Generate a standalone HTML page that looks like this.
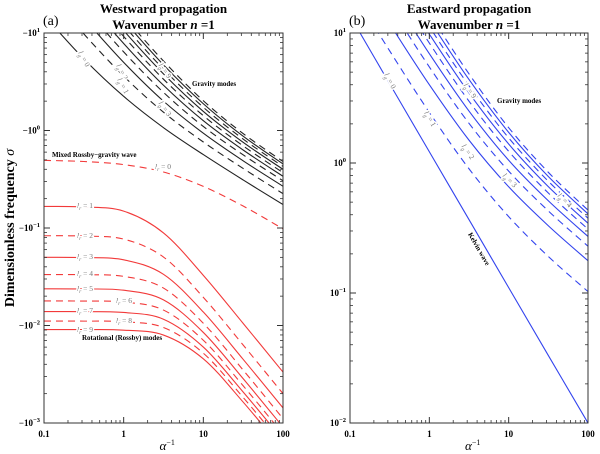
<!DOCTYPE html>
<html><head><meta charset="utf-8"><style>
html,body{margin:0;padding:0;background:#fff}
svg{display:block}
text{font-family:"Liberation Serif",serif}
</style></head><body>
<svg id="chart" width="600" height="454" viewBox="0 0 600 454"></svg>
<script>
const xSamples=[0.1,0.316,1,3.16,10,31.6,100];
const yTickExps=[1,0,-1,-2,-3];
const xTickLabels=["0.1","1","10","100"];
const xTickVals=[0.1,1,10,100];
// Westward gravity modes l_g=0..9
const westGravity=[
[15.2,5.43,2.24,1.07,0.566,0.311,0.174],
[29.2,9.79,3.61,1.54,0.762,0.408,0.225],
[43,14.2,5.0,2.0,0.938,0.489,0.268],
[56.6,18.7,6.4,2.46,1.10,0.563,0.305],
[70.8,23.1,7.81,2.91,1.26,0.631,0.339],
[85,27.6,9.22,3.36,1.42,0.695,0.370],
[99,32,10.6,3.81,1.57,0.756,0.400],
[113,36.5,12.0,4.26,1.73,0.816,0.428],
[127,41,13.5,4.71,1.88,0.874,0.454],
[141,45,14.9,5.16,2.02,0.930,0.481]];
// Mixed Rossby-gravity (l_r=0)
const westMRG=[0.494,0.481,0.447,0.375,0.267,0.168,0.098];
// Westward Rossby modes l_r=1..9
const westRossby=[
[0.1665,0.1646,0.149,0.0891,0.0327,0.01052,0.00333],
[0.0833,0.0826,0.0769,0.0504,0.01945,0.00631,0.0020],
[0.05,0.0497,0.0472,0.0335,0.01374,0.0045,0.00143],
[0.0333,0.0332,0.0319,0.0242,0.01054,0.00349,0.00111],
[0.0238,0.0237,0.0230,0.0183,0.00849,0.00285,0.000908],
[0.01786,0.0178,0.0174,0.0144,0.00706,0.00241,0.00077],
[0.0139,0.01386,0.0136,0.0116,0.00601,0.00208,0.00067],
[0.0111,0.01109,0.01092,0.00954,0.0052,0.00183,0.00059],
[0.00909,0.00908,0.00896,0.00798,0.00455,0.00164,0.00053]];
// Eastward: Kelvin (l_g=0) and gravity l_g=1..9
const eastKelvin=[13.6,4.07,1.22,0.367,0.110,0.0331,0.0100];
const eastGravity=[
[22.6,7.29,2.45,0.903,0.387,0.191,0.1025],
[36.5,11.8,4.0,1.5,0.656,0.329,0.177],
[50,16.3,5.48,2.02,0.866,0.428,0.229],
[64,20.8,6.93,2.51,1.05,0.512,0.272],
[78,25.3,8.37,2.99,1.23,0.588,0.310],
[92,29.7,9.80,3.46,1.40,0.658,0.344],
[106,34.2,11.2,3.93,1.56,0.724,0.376],
[120,38.7,12.6,4.39,1.72,0.787,0.406],
[135,43.2,14.1,4.85,1.87,0.848,0.434]];

const NS="http://www.w3.org/2000/svg";
const svg=document.getElementById('chart');
function mk(tag,attrs,parent){const e=document.createElementNS(NS,tag);for(const k in attrs)e.setAttribute(k,attrs[k]);(parent||svg).appendChild(e);return e;}
function txt(s,x,y,size,opts,parent){const t=mk('text',Object.assign({x:x,y:y,'font-size':size},opts||{}),parent);t.textContent=s;return t;}

function makePanel(p){
  const g=mk('g',{});
  
  
  const L=p.left,R=p.right,T=33,B=423;
  const lx0=-1,lx1=2;
  const X=v=>L+(Math.log10(v)-lx0)/(lx1-lx0)*(R-L);
  const Y=v=>T+(p.ymaxExp-Math.log10(v))/(p.ymaxExp-p.yminExp)*(B-T);
  const cid='clip-'+p.name;
  const cp=mk('clipPath',{id:cid},g);mk('rect',{x:L,y:T,width:R-L,height:B-T},cp);
  const curves=mk('g',{'clip-path':'url(#'+cid+')'},g);
  
  
  function pathFor(vals){
    const pts=xSamples.map((x,i)=>[X(x),Y(vals[i])]);
    let d='M'+pts[0][0].toFixed(2)+' '+pts[0][1].toFixed(2);
    for(let i=0;i<pts.length-1;i++){
      const p0=pts[Math.max(0,i-1)],p1=pts[i],p2=pts[i+1],p3=pts[Math.min(pts.length-1,i+2)];
      const c1=[p1[0]+(p2[0]-p0[0])/6,p1[1]+(p2[1]-p0[1])/6];
      const c2=[p2[0]-(p3[0]-p1[0])/6,p2[1]-(p3[1]-p1[1])/6];
      d+=' C'+c1.map(v=>v.toFixed(2)).join(' ')+' '+c2.map(v=>v.toFixed(2)).join(' ')+' '+p2[0].toFixed(2)+' '+p2[1].toFixed(2);
    }
    return d;
  }
  p.series.forEach(s=>{
    const path=mk('path',{d:pathFor(s.vals),fill:'none',stroke:s.color,'stroke-width':1.1});
    if(s.dashed)path.setAttribute('stroke-dasharray','7,5');
    
    
    curves.appendChild(path);
  });
  const fr=mk('rect',{x:L,y:T,width:R-L,height:B-T,fill:'none',stroke:'#333','stroke-width':1},g);
  
  
  for(let e=p.ymaxExp;e>=p.yminExp;e--){
    const y=Y(Math.pow(10,e));
    mk('line',{x1:L,x2:L+6,y1:y,y2:y,stroke:'#333'},g);
    mk('line',{x1:R,x2:R-6,y1:y,y2:y,stroke:'#333'},g);
    const t=txt('',L-4,y+3,9,{'text-anchor':'end','font-weight':'bold'},g);
    t.textContent=(p.neg?'\u221210':'10');
    const sup=mk('tspan',{dy:-4,'font-size':6.5},t);sup.textContent=String(e).replace('-','\u2212');
    
    
    if(e>p.yminExp){for(let k=2;k<10;k++){const yy=Y(Math.pow(10,e-1)*k);
      mk('line',{x1:L,x2:L+3,y1:yy,y2:yy,stroke:'#333','stroke-width':0.8},g);
      mk('line',{x1:R,x2:R-3,y1:yy,y2:yy,stroke:'#333','stroke-width':0.8},g);}}
  }
  xTickVals.forEach((v,i)=>{
    const x=X(v);
    mk('line',{x1:x,x2:x,y1:B,y2:B-6,stroke:'#333'},g);
    mk('line',{x1:x,x2:x,y1:T,y2:T+6,stroke:'#333'},g);
    const t=txt(xTickLabels[i],x,B+14,9,{'text-anchor':'middle','font-weight':'bold'},g);
    
    
    if(i<xTickVals.length-1){for(let k=2;k<10;k++){const xx=X(v*k);
      mk('line',{x1:xx,x2:xx,y1:B,y2:B-3,stroke:'#333','stroke-width':0.8},g);
      mk('line',{x1:xx,x2:xx,y1:T,y2:T+3,stroke:'#333','stroke-width':0.8},g);}}
  });
  const xl=txt('\u03B1',(L+R)/2-4,450,13,{'font-style':'italic'},g);
  const xs=mk('tspan',{dy:-5,'font-size':8,'font-style':'normal'},xl);xs.textContent='\u22121';
  
  
  const t1=txt(p.title,(L+R)/2,13,13,{'text-anchor':'middle','font-weight':'bold'},g);
  
  
  const t2=txt('Wavenumber ',(L+R)/2,29,13,{'text-anchor':'middle','font-weight':'bold'},g);
  const ti=mk('tspan',{'font-style':'italic'},t2);ti.textContent='n';
  const tr=mk('tspan',{},t2);tr.textContent=' =1';
  
  
  const pl=txt(p.letter,L-1,25,14,{'font-family':'Liberation Sans, sans-serif'},g);
  
  
  return g;
}

const RED='#f23a3a',BLUE='#3344ee',BLACK='#222';
const westSeries=[];
westGravity.forEach((v,i)=>westSeries.push({vals:v,color:BLACK,dashed:i%2==1,name:'gravity-lg-'+i}));
westSeries.push({vals:westMRG,color:RED,dashed:true,name:'mixed-rossby-gravity'});
westRossby.forEach((v,i)=>westSeries.push({vals:v,color:RED,dashed:(i+1)%2==0,name:'rossby-lr-'+(i+1)}));
makePanel({name:'westward-panel',left:44,right:283,ymaxExp:1,yminExp:-3,neg:true,title:'Westward propagation',letter:'(a)',series:westSeries});

const eastSeries=[{vals:eastKelvin,color:BLUE,dashed:false,name:'kelvin-wave'}];
eastGravity.forEach((v,i)=>eastSeries.push({vals:v,color:BLUE,dashed:(i+1)%2==1,name:'gravity-lg-'+(i+1)}));
makePanel({name:'eastward-panel',left:350,right:588,ymaxExp:1,yminExp:-2,neg:false,title:'Eastward propagation',letter:'(b)',series:eastSeries});

const yt=txt('Dimensionless frequency ',0,0,14,{'font-weight':'bold',transform:'translate(14,228) rotate(-90)','text-anchor':'middle'});
const ys=mk('tspan',{'font-style':'italic','font-weight':'normal'},yt);ys.textContent='\u03C3';



function ann(s,x,y,size,name,opts){const t=txt(s,x,y,size,Object.assign({'font-weight':'bold'},opts||{}));return t;}
ann('Gravity modes',192,86,7,'gravity-modes-label-west');
ann('Mixed Rossby\u2212gravity wave',52,157,7,'mrg-label');
ann('Rotational (Rossby) modes',82,340,7,'rossby-modes-label');
ann('Gravity modes',497,103,7,'gravity-modes-label-east');
function mlab(sub,num,x,y,name,rot){
  const o={'font-style':'italic','fill':'#777','font-weight':'normal',stroke:'#fff','stroke-width':3,'paint-order':'stroke','text-anchor':'middle'};
  if(rot)o.transform='rotate('+rot+' '+x+' '+y+')';
  const t=txt('l',x,y,7.5,o);
  const s=mk('tspan',{dy:2,'font-size':5.5},t);s.textContent=sub;
  const r=mk('tspan',{dy:-2,'font-style':'normal'},t);r.textContent=' = '+num;
  return t;
}
const rl=[[85,208,'1'],[85,238,'2'],[85,259,'3'],[85,276,'4'],[85,291,'5'],[124,303,'6'],[85,313,'7'],[124,323,'8'],[85,332,'9']];
rl.forEach(r=>mlab('r',r[2],r[0],r[1],'rossby-lr-'+r[2]+'-label'));
mlab('r','0',163,169,'mrg-lr-0-label');
mlab('g','0',82,60,'west-lg-0-label',62);
mlab('g','2',120,73,'west-lg-2-label',62);
mlab('g','1',121,87,'west-lg-1-label',62);
mlab('g','3',163,110,'west-lg-3-label',55);
mlab('g','9',163,72,'west-lg-9-label',55);
mlab('g','0',388,82,'east-lg-0-label',62);
mlab('g','1',428,120,'east-lg-1-label',60);
mlab('g','2',466,153,'east-lg-2-label',55);
mlab('g','3',508,182,'east-lg-3-label',45);
mlab('g','4',563,202,'east-lg-4-label',45);
mlab('g','9',468,92,'east-lg-9-label',55);
const kw=txt('Kelvin wave',477,250,7,{'font-weight':'bold',transform:'rotate(60 477 250)','text-anchor':'middle',stroke:'#fff','stroke-width':3,'paint-order':'stroke'});


</script>
</body></html>
